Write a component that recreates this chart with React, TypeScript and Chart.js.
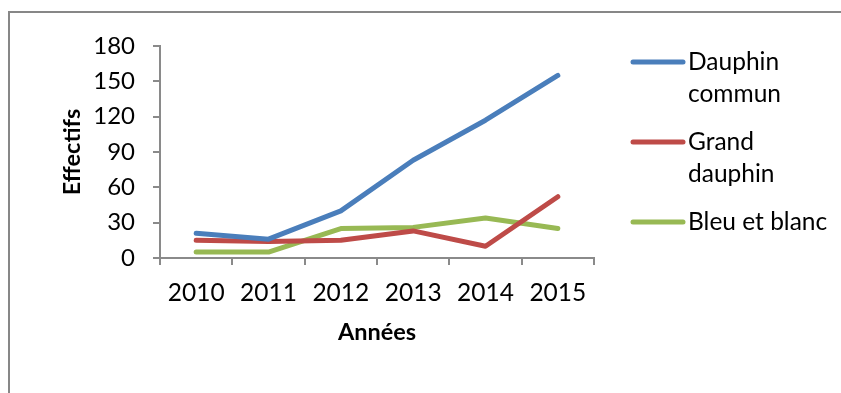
import React, { useEffect, useRef } from "react";
import { Chart, registerables } from "chart.js";

Chart.register(...registerables);

const years = ["2010", "2011", "2012", "2013", "2014", "2015"];
const seriesNames = ["Dauphin commun", "Grand dauphin", "Bleu et blanc"];
const legendLines = [["Dauphin", "commun"], ["Grand", "dauphin"], ["Bleu et blanc"]];
const dauphinCommun = [21, 16, 40, 83, 117, 155];
const grandDauphin = [15, 14, 15, 23, 10, 52];
const bleuEtBlanc = [5, 5, 25, 26, 34, 25];
const seriesColors = ["#4a7ebb", "#be4b48", "#98b954"];
const yTitle = "Effectifs";
const xTitle = "Années";

const FONT = "Lato, 'Open Sans', sans-serif";
const AXIS_COLOR = "#8a8a8a";

const framePlugin = {
  id: "frame",
  beforeDraw(chart: any) {
    const ctx = chart.ctx;
    ctx.save();
    ctx.fillStyle = "#878787";
    ctx.fillRect(8, 11, chart.width, 2);
    ctx.fillRect(8, 11, 2, chart.height);
    ctx.restore();
  },
};

const legendPlugin = {
  id: "customLegend",
  afterDraw(chart: any) {
    const ctx = chart.ctx;
    ctx.save();
    chart.data.datasets.forEach((ds: any, i: number) => {
      const y = 62 + i * 80;
      ctx.strokeStyle = ds.borderColor;
      ctx.lineWidth = 5;
      ctx.lineCap = "round";
      ctx.beginPath();
      ctx.moveTo(633, y);
      ctx.lineTo(683, y);
      ctx.stroke();
      ctx.fillStyle = "#000";
      ctx.font = `24.5px ${FONT}`;
      ctx.textBaseline = "middle";
      ctx.textAlign = "left";
      legendLines[i].forEach((line, j) => {
        ctx.fillText(line, 688, y + j * 32);
      });
    });
    ctx.restore();
  },
};

export default function App() {
  const ref = useRef<HTMLCanvasElement>(null);

  useEffect(() => {
    if (!ref.current) return;
    const data = [dauphinCommun, grandDauphin, bleuEtBlanc];
    const chart = new Chart(ref.current, {
      type: "line",
      data: {
        labels: years,
        datasets: seriesNames.map((name, i) => ({
          label: name,
          data: data[i],
          borderColor: seriesColors[i],
          backgroundColor: seriesColors[i],
          borderWidth: 5,
          pointRadius: 0,
          borderCapStyle: "round" as const,
          borderJoinStyle: "round" as const,
          tension: 0,
        })),
      },
      options: {
        responsive: false,
        animation: false,
        layout: { padding: { left: 0, top: 46, right: 247, bottom: 0 } },
        plugins: {
          legend: { display: false },
          tooltip: { enabled: false },
        },
        scales: {
          x: {
            offset: true,
            grid: {
              offset: true,
              drawOnChartArea: false,
              drawTicks: true,
              tickLength: 7,
              color: AXIS_COLOR,
              lineWidth: 2,
            },
            border: { display: true, color: AXIS_COLOR, width: 2 },
            ticks: {
              color: "#000",
              font: { family: FONT, size: 24.5 },
              padding: 13,
              maxRotation: 0,
              autoSkip: false,
            },
            title: {
              display: true,
              text: xTitle,
              color: "#000",
              font: { family: FONT, size: 23.5, weight: "bold" },
              padding: { top: 0, bottom: 46 },
            },
            afterFit: (scale: any) => {
              scale.height = 393 - 258;
            },
          },
          y: {
            min: 0,
            max: 180,
            ticks: {
              stepSize: 30,
              color: "#000",
              font: { family: FONT, size: 24 },
              padding: 18,
            },
            grid: {
              drawOnChartArea: false,
              drawTicks: true,
              tickLength: 7,
              color: AXIS_COLOR,
              lineWidth: 2,
            },
            border: { display: true, color: AXIS_COLOR, width: 2 },
            title: {
              display: true,
              text: yTitle,
              color: "#000",
              font: { family: FONT, size: 23.5, weight: "bold" },
              padding: { top: 58, bottom: 0 },
            },
            afterFit: (scale: any) => {
              scale.width = 160;
            },
          },
        },
      },
      plugins: [framePlugin, legendPlugin],
    });
    return () => chart.destroy();
  }, []);

  return (
    <div style={{ position: "absolute", left: 0, top: 0, width: 841, height: 393, background: "#fff" }}>
      <canvas ref={ref} width={841} height={393} style={{ display: "block" }} />
    </div>
  );
}
